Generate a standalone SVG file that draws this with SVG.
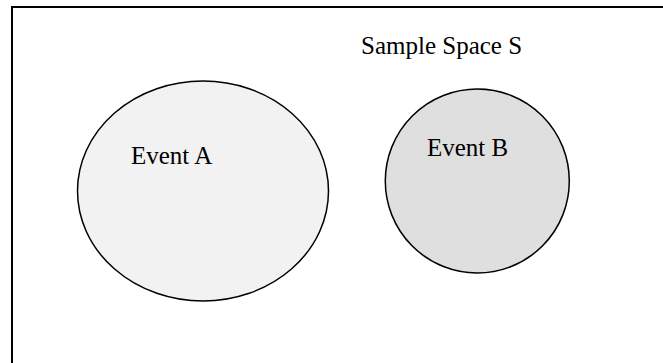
<svg xmlns="http://www.w3.org/2000/svg" width="663" height="363" viewBox="0 0 663 363">
  <style>
    .frame { fill: #ffffff; stroke: #000000; stroke-width: 2; }
    .set { stroke: #000000; stroke-width: 1.5; }
    .label { font-family: 'Liberation Serif', 'DejaVu Serif', serif; font-size: 25px; fill: #000000; }
  </style>
  <rect width="663" height="363" fill="#ffffff"/>
  <!-- sample space frame, running off the right and bottom edges -->
  <g id="sample-space">
    <rect class="frame" x="12" y="7" width="670" height="380"/>
    <text class="label" x="361" y="54">Sample Space S</text>
  </g>
  <g id="event-a">
    <ellipse class="set" cx="203" cy="191" rx="125.5" ry="110" fill="#f2f2f2"/>
    <text class="label" x="131" y="164">Event A</text>
  </g>
  <g id="event-b">
    <circle class="set" cx="477.3" cy="181" r="92" fill="#dfdfdf"/>
    <text class="label" x="427" y="156">Event B</text>
  </g>
  <g id="connectors"/>
</svg>
